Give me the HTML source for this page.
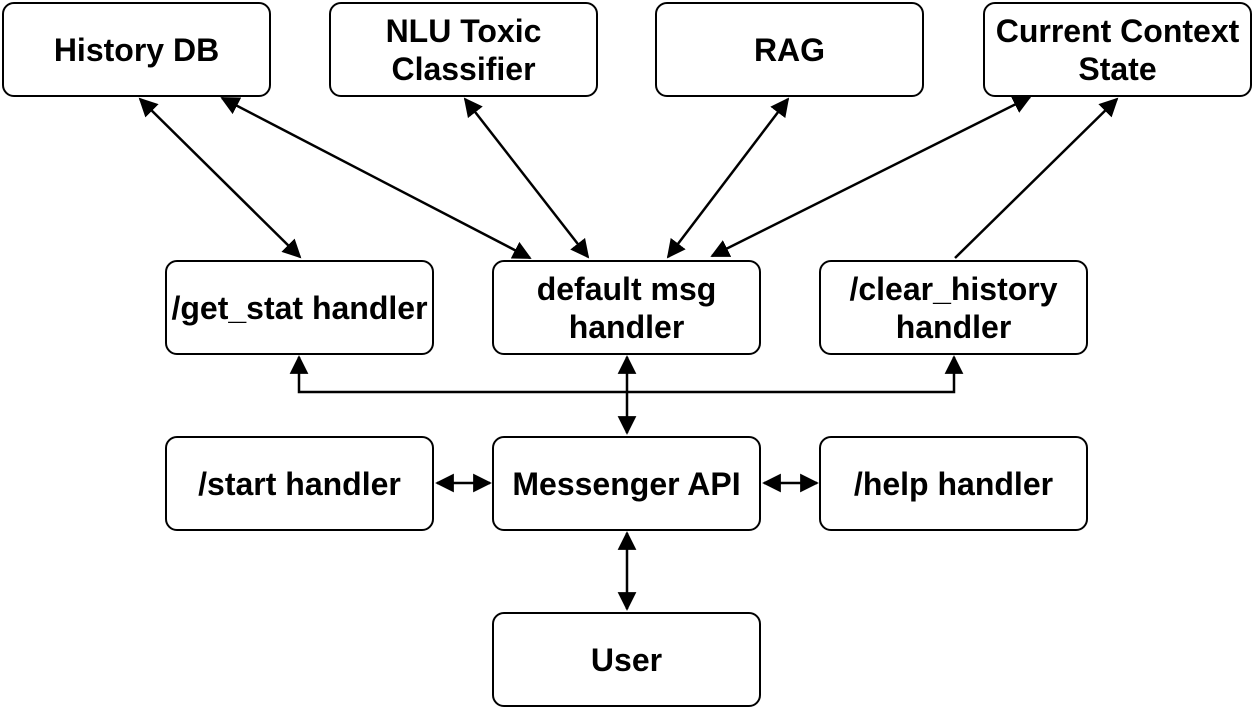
<!DOCTYPE html>
<html><head><meta charset="utf-8"><style>
html,body{margin:0;padding:0;background:#fff;}
body{width:1253px;height:708px;position:relative;overflow:hidden;font-family:"Liberation Sans",sans-serif;}
.b{position:absolute;box-sizing:border-box;border:2px solid #000;border-radius:12px;background:#fff;display:flex;align-items:center;justify-content:center;text-align:center;font-weight:bold;font-size:32px;line-height:38px;width:269px;height:95px;white-space:nowrap;}
svg{position:absolute;left:0;top:0;}
</style></head><body>
<svg width="1253" height="708">
<defs><marker id="a" viewBox="0 0 10 10" refX="9" refY="5" markerWidth="7.5" markerHeight="7.5" orient="auto-start-reverse"><path d="M0,0 L10,5 L0,10z" fill="#000"/></marker></defs>
<g stroke="#000" stroke-width="2.5" fill="none">
<line x1="140" y1="99" x2="300" y2="257" marker-start="url(#a)" marker-end="url(#a)"/>
<line x1="222" y1="98" x2="530" y2="258" marker-start="url(#a)" marker-end="url(#a)"/>
<line x1="465" y1="99" x2="588" y2="257" marker-start="url(#a)" marker-end="url(#a)"/>
<line x1="788" y1="99" x2="668" y2="257" marker-start="url(#a)" marker-end="url(#a)"/>
<line x1="1030" y1="97" x2="712" y2="256" marker-start="url(#a)" marker-end="url(#a)"/>
<line x1="955" y1="258" x2="1117" y2="99" marker-end="url(#a)"/>
<polyline points="299,357 299,392 954,392 954,357" marker-start="url(#a)" marker-end="url(#a)"/>
<line x1="627" y1="357" x2="627" y2="433" marker-start="url(#a)" marker-end="url(#a)"/>
<line x1="437" y1="483" x2="490" y2="483" marker-start="url(#a)" marker-end="url(#a)"/>
<line x1="764" y1="483" x2="817" y2="483" marker-start="url(#a)" marker-end="url(#a)"/>
<line x1="627" y1="533" x2="627" y2="609" marker-start="url(#a)" marker-end="url(#a)"/>
</g></svg>
<div class="b" style="left:2px;top:2px">History DB</div>
<div class="b" style="left:329px;top:2px">NLU Toxic<br>Classifier</div>
<div class="b" style="left:655px;top:2px">RAG</div>
<div class="b" style="left:983px;top:2px">Current Context<br>State</div>
<div class="b" style="left:165px;top:260px">/get_stat handler</div>
<div class="b" style="left:492px;top:260px">default msg<br>handler</div>
<div class="b" style="left:819px;top:260px">/clear_history<br>handler</div>
<div class="b" style="left:165px;top:436px">/start handler</div>
<div class="b" style="left:492px;top:436px">Messenger API</div>
<div class="b" style="left:819px;top:436px">/help handler</div>
<div class="b" style="left:492px;top:612px">User</div>
</body></html>
